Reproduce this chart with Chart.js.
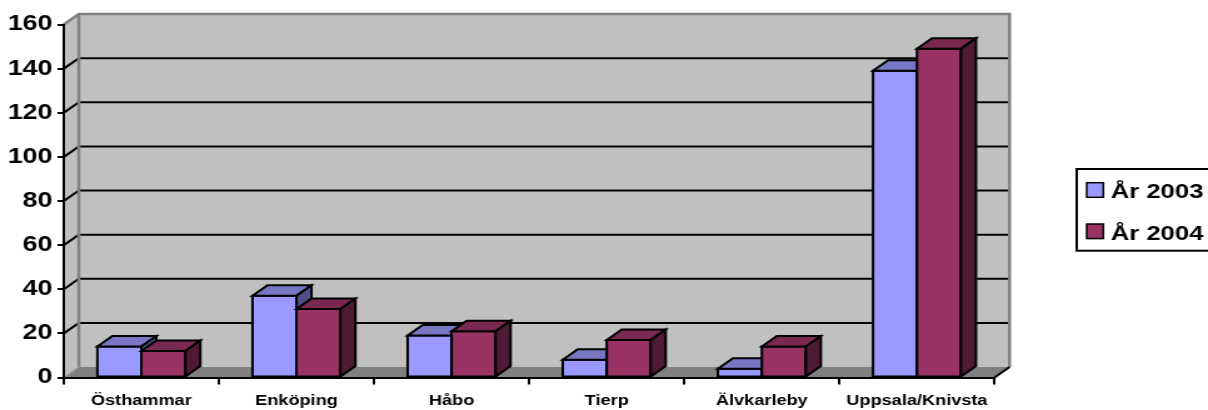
<!DOCTYPE html>
<html>
<head>
<meta charset="utf-8">
<script src="https://cdn.jsdelivr.net/npm/chart.js"></script>
<style>
  html, body { margin: 0; padding: 0; background: #fff; overflow: hidden; }
</style>
</head>
<body>
<canvas id="chart" width="966" height="410" style="width:1208px;height:410px"></canvas>
<script>
// Antal per kommun, två år
const kommuner = ['Östhammar', 'Enköping', 'Håbo', 'Tierp', 'Älvkarleby', 'Uppsala/Knivsta'];
const ar2003 = [14, 37, 19, 8, 4, 139];
const ar2004 = [12, 31, 21, 17, 14, 149];
const serier = ['År 2003', 'År 2004'];
const yMin = 0, yMax = 160, yStep = 20;

// depth of the 3D box (canvas px)
const DX = 12, DY = -10.5;
const FONT = "'Liberation Sans', Arial, sans-serif";

function poly(ctx, pts, fill, stroke, lw) {
  ctx.beginPath();
  ctx.moveTo(pts[0][0], pts[0][1]);
  for (let i = 1; i < pts.length; i++) ctx.lineTo(pts[i][0], pts[i][1]);
  ctx.closePath();
  if (fill) { ctx.fillStyle = fill; ctx.fill(); }
  if (stroke) { ctx.strokeStyle = stroke; ctx.lineWidth = lw; ctx.stroke(); }
}

function line(ctx, pts, color, lw) {
  ctx.beginPath();
  ctx.moveTo(pts[0][0], pts[0][1]);
  for (let i = 1; i < pts.length; i++) ctx.lineTo(pts[i][0], pts[i][1]);
  ctx.strokeStyle = color; ctx.lineWidth = lw; ctx.stroke();
}

const box3d = {
  id: 'box3d',
  beforeDraw(chart) {
    const ctx = chart.ctx;
    const {left, right, top, bottom} = chart.chartArea;
    const y = chart.scales.y;
    const bl = left + DX, br = right + DX, bt = top + DY, bb = bottom + DY;
    ctx.save();
    ctx.lineJoin = 'miter';
    // side wall + back wall
    poly(ctx, [[left, top], [bl, bt], [bl, bb], [left, bottom]], '#c0c0c0');
    poly(ctx, [[bl, bt], [br, bt], [br, bb], [bl, bb]], '#c0c0c0');
    // floor
    poly(ctx, [[left, bottom], [right, bottom], [br, bb], [bl, bb]], '#808080');
    // grid lines, running from the front axis onto the back wall
    for (let v = yMin + yStep; v < yMax; v += yStep) {
      const p = y.getPixelForValue(v);
      line(ctx, [[left, p], [bl, p + DY], [br, p + DY]], '#000', 2);
    }
    // wall edges
    line(ctx, [[left, top], [bl, bt], [br, bt], [br, bb]], '#808080', 2.5);
    line(ctx, [[bl, bt], [bl, bb]], '#808080', 2.5);
    line(ctx, [[left, bottom], [bl, bb]], '#a0a0a0', 1.5);
    line(ctx, [[right, bottom], [br, bb]], '#000', 2);
    ctx.restore();
  },
  afterDatasetsDraw(chart) {
    // redraw every column as a box, left series first so the right one covers its side
    const ctx = chart.ctx;
    ctx.save();
    ctx.lineJoin = 'miter';
    chart.data.datasets.forEach((ds, i) => {
      chart.getDatasetMeta(i).data.forEach(bar => {
        const {x, y, base, width} = bar.getProps(['x', 'y', 'base', 'width'], true);
        const l = x - width / 2, r = x + width / 2;
        poly(ctx, [[l, y], [r, y], [r, base], [l, base]], ds.backgroundColor, '#000', 2);
        poly(ctx, [[l, y], [r, y], [r + DX, y + DY], [l + DX, y + DY]], ds.topColor, '#000', 2);
        poly(ctx, [[r, y], [r + DX, y + DY], [r + DX, base + DY], [r, base]], ds.sideColor, '#000', 2);
      });
    });
    ctx.restore();
  },
  afterDraw(chart) {
    // legend box on the right
    const ctx = chart.ctx;
    ctx.save();
    ctx.strokeStyle = '#000';
    ctx.lineWidth = 2;
    ctx.strokeRect(861, 169, 120, 81.7);
    ctx.font = 'bold 20.5px ' + FONT;
    ctx.textBaseline = 'alphabetic';
    chart.data.datasets.forEach((ds, i) => {
      const sy = 182.7 + i * 41.3;
      ctx.fillStyle = ds.backgroundColor;
      ctx.fillRect(869, sy, 13.3, 14.6);
      ctx.lineWidth = 1.5;
      ctx.strokeRect(869, sy, 13.3, 14.6);
      ctx.fillStyle = '#000';
      ctx.fillText(ds.label, 888.2, 198.3 + i * 41.7);
    });
    ctx.restore();
  }
};

Chart.defaults.font.family = FONT;

new Chart(document.getElementById('chart'), {
  type: 'bar',
  data: {
    labels: kommuner,
    datasets: [
      { label: serier[0], data: ar2003, backgroundColor: '#9999ff', topColor: '#7777c4', sideColor: '#4f4f8a', borderWidth: 0 },
      { label: serier[1], data: ar2004, backgroundColor: '#993366', topColor: '#782851', sideColor: '#4f1a35', borderWidth: 0 }
    ]
  },
  options: {
    responsive: false,
    animation: false,
    devicePixelRatio: 1,
    layout: { padding: { left: 0, top: 24.5, right: 170.7, bottom: 0 } },
    datasets: { bar: { categoryPercentage: 0.567, barPercentage: 1 } },
    plugins: { legend: { display: false }, tooltip: { enabled: false } },
    scales: {
      x: {
        grid: { offset: true, drawOnChartArea: false, color: '#000', lineWidth: 2, tickLength: 7 },
        border: { color: '#000', width: 2 },
        ticks: { color: '#000', font: { size: 14.5, weight: 'bold' }, padding: 8, maxRotation: 0, autoSkip: false },
        afterFit(scale) { scale.height = 32.5; }
      },
      y: {
        min: yMin, max: yMax,
        grid: { drawOnChartArea: false, color: '#000', lineWidth: 2, tickLength: 5 },
        border: { color: '#000', width: 2 },
        ticks: { stepSize: yStep, color: '#000', font: { size: 21.5, weight: 'bold' }, padding: 4 },
        afterFit(scale) { scale.width = 51; }
      }
    }
  },
  plugins: [box3d]
});
</script>
</body>
</html>
